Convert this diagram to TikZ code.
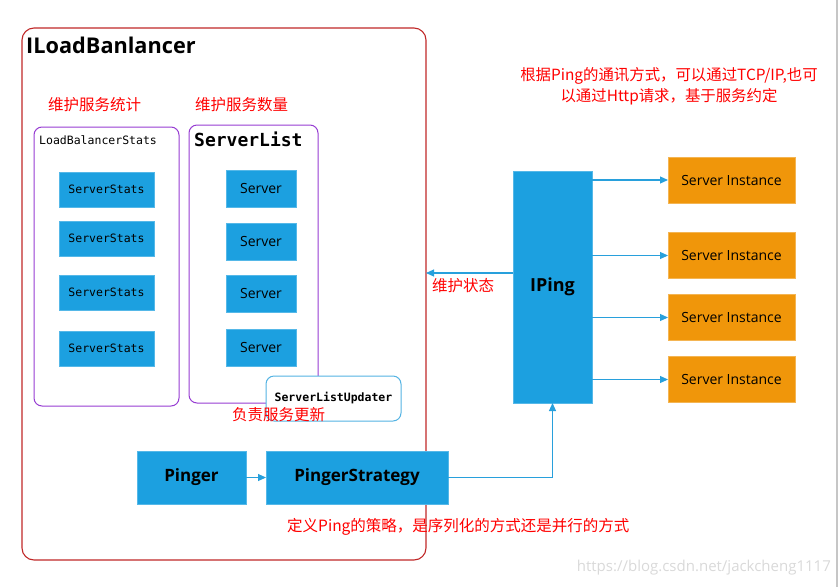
\documentclass[tikz,border=0pt]{standalone}
\usepackage{fontspec}
\setmainfont{Open Sans}
\setmonofont{DejaVu Sans Mono}
\newfontfamily\cjk{Noto Sans CJK SC}
\usetikzlibrary{arrows.meta}
\definecolor{frameRed}{RGB}{192,40,40}
\definecolor{boxBlue}{RGB}{28,160,224}
\definecolor{lineBlue}{RGB}{40,160,220}
\definecolor{boxOrange}{RGB}{240,150,10}
\definecolor{listPurple}{RGB}{150,60,210}
\definecolor{noteRed}{RGB}{255,0,0}
\newcommand{\fsz}[1]{\fontsize{#1}{#1}\selectfont}
\tikzset{
  box/.style={inner sep=0pt, outer sep=0pt},
  bluebox/.style={box, fill=boxBlue, draw=boxBlue!75!white, line width=0.6pt},
  statbox/.style={bluebox, minimum width=95, minimum height=35, font=\ttfamily\fsz{11.5}},
  srvbox/.style={bluebox, minimum width=70, minimum height=37, font=\fsz{14}},
  pingbox/.style={bluebox, minimum height=53, font=\bfseries\fsz{17}},
  instbox/.style={box, fill=boxOrange, draw=boxOrange!70!white, line width=0.6pt,
    minimum width=127, minimum height=46, font=\fsz{14}},
  listbox/.style={box, draw=listPurple, line width=1pt, rounded corners=8pt},
  note/.style={inner sep=0pt, text=noteRed, font=\cjk\fsz{15.5}},
  arr/.style={draw=lineBlue, line width=1.1pt, -{Triangle[length=8pt,width=7pt]}}
}
\begin{document}
\begin{tikzpicture}[x=1pt, y=-1pt]
  \useasboundingbox (0,0) rectangle (840,587);
  \draw[gray!45, line width=2pt] (837,0) -- (837,587);
  % outer frame
  \node[box, draw=frameRed, line width=1.1pt, rounded corners=12pt,
        minimum width=404, minimum height=532] (lb) at (224,294) {};
  \node[anchor=base west, inner sep=0pt, font=\bfseries\fsz{21.7}] (lbname) at (26,53) {ILoadBanlancer};
  \node[note, anchor=west] (statnote) at (48,105) {维护服务统计};
  \node[note, anchor=west] (listnote) at (195,105) {维护服务数量};

  % LoadBalancerStats
  \node[listbox, minimum width=145, minimum height=279] (stats) at (106.5,266.5) {};
  \node[anchor=base west, inner sep=0pt, font=\ttfamily\fsz{11.5}] (statsname) at (39,144) {LoadBalancerStats};
  \node[statbox] (ss1) at (106.5,189.5) {ServerStats};
  \node[statbox] (ss2) at (106.5,238.5) {ServerStats};
  \node[statbox] (ss3) at (106.5,292.5) {ServerStats};
  \node[statbox] (ss4) at (106.5,348.5) {ServerStats};

  % ServerList
  \node[listbox, minimum width=129, minimum height=278] (slist) at (253.5,264) {};
  \node[anchor=base west, inner sep=0pt, font=\ttfamily\bfseries\fsz{18}] (slistname) at (194,146) {ServerList};
  \node[srvbox] (s1) at (261,188.5) {Server};
  \node[srvbox] (s2) at (261,241.5) {Server};
  \node[srvbox] (s3) at (261,293.5) {Server};
  \node[srvbox] (s4) at (261,347.5) {Server};
  \node[box, fill=white, draw=lineBlue!80!white, line width=1pt, rounded corners=8pt,
        minimum width=135, minimum height=45, font=\ttfamily\bfseries\fsz{11.5}] (upd) at (333.5,398.5) {\raisebox{-2pt}{ServerListUpdater}};
  \node[note, anchor=west] (updnote) at (232,415) {负责服务更新};

  % pinger chain
  \node[pingbox, minimum width=109] (pinger) at (191.5,477.5) {Pinger};
  \node[pingbox, minimum width=182] (strategy) at (357,477.5) {PingerStrategy};
  \node[note, anchor=west] (strnote) at (287,527) {定义Ping的策略，是序列化的方式还是并行的方式};

  % IPing and instances
  \node[bluebox, minimum width=79, minimum height=232, font=\bfseries\fsz{18}] (iping) at (552.5,287) {IPing};
  \node[instbox] (inst1) at (731.5,180) {Server Instance};
  \node[instbox] (inst2) at (731.5,255.5) {Server Instance};
  \node[instbox] (inst3) at (731.5,317.5) {Server Instance};
  \node[instbox] (inst4) at (731.5,379.5) {Server Instance};
  \node[note, align=center, font={\cjk\fontsize{15.4}{21}\selectfont}] (pingnote) at (669,86)
    {根据Ping的通讯方式，可以通过TCP/IP,也可\\以通过Http请求，基于服务约定};

  % connectors
  \draw[arr] (pinger) -- (strategy);
  \draw[arr] (strategy.east) -| (iping.south);
  \foreach \i in {1,...,4}
    \draw[arr] (iping.east |- inst\i.west) -- (inst\i.west);
  \coordinate (st) at (0,273);
  \draw[arr] (iping.west |- st) -- (lb.east |- st);
  \node[note, anchor=west] (stnote) at (432,286) {维护状态};

  \node[anchor=east, inner sep=0pt, text=gray!30, font=\fsz{15}] (mark) at (831,568) {https://blog.csdn.net/jackcheng1117};
\end{tikzpicture}
\end{document}
